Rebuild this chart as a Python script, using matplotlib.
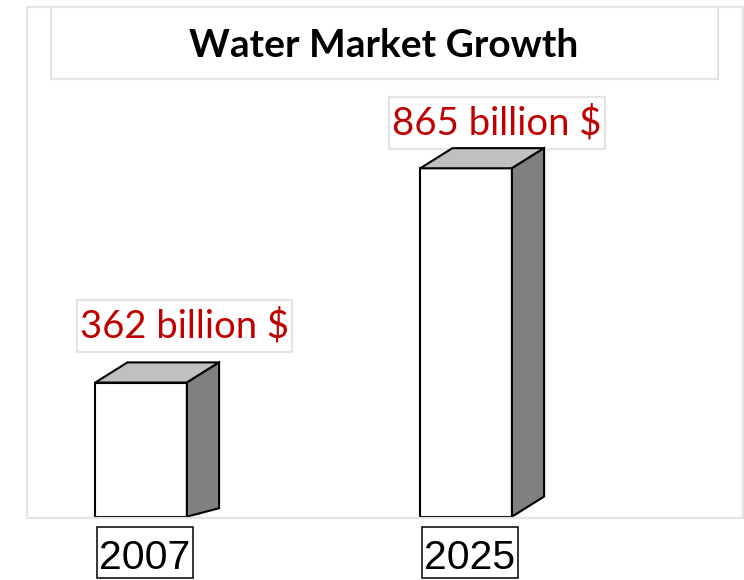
import matplotlib.pyplot as plt
from matplotlib.patches import Polygon, Rectangle

# market size per year, billion $
years = ["2007", "2025"]
market = [362, 865]
value_labels = ["362 billion $", "865 billion $"]
title = "Water Market Growth"

# 3-D bar styling (x in category units, y in billion $)
half_w = 0.141
depth_x = 0.099
depth_y = 50
base_lift = [21, 50]      # rise of the back face bottom for each bar
label_dx = [0.133, 0.095]
label_dy = 112
red = "#C00000"

fig = plt.figure(figsize=(7.44, 5.8), dpi=100)
ax = fig.add_axes([0, 0, 1, 1])
ax.set_xlim(-0.434, 1.855)
ax.set_ylim(-157.2, 1282.8)
ax.axis("off")

# outer plot frame and title box, in figure fractions
fig.patches.append(Rectangle((0.0359, 0.1074), 0.9621, 0.8806, transform=fig.transFigure,
                             fill=False, edgecolor="#E4E4E4", lw=1.6, zorder=0))
fig.patches.append(Rectangle((0.0685, 0.8638), 0.8959, 0.1241, transform=fig.transFigure,
                             facecolor="white", edgecolor="#E4E4E4", lw=1.6, zorder=1))
fig.text(0.516, 0.9012, title, ha="center", va="baseline", fontsize=28,
         fontweight="bold", family="Lato")

edge = dict(edgecolor="black", lw=1.5, joinstyle="miter")
for i, (yr, v, lab) in enumerate(zip(years, market, value_labels)):
    top = base_lift[i] + v - depth_y
    l, r = i - half_w, i + half_w
    # value label box
    cx, cy = i + label_dx[i], v + label_dy
    ax.add_patch(Rectangle((cx - 0.331, cy - 64), 0.662, 128, facecolor="white",
                           edgecolor="#E4E4E4", lw=1.6, zorder=2))
    ax.text(cx, cy - 29, lab, ha="center", va="baseline", color=red,
            fontsize=27.5, family="Lato", zorder=3)
    # front, top and side faces
    ax.add_patch(Rectangle((l, 0), r - l, top, facecolor="white", zorder=4, **edge))
    ax.add_patch(Polygon([(l, top), (r, top), (r + depth_x, top + depth_y),
                          (l + depth_x, top + depth_y)], closed=True,
                         facecolor="#C0C0C0", zorder=4, **edge))
    ax.add_patch(Polygon([(r, 0), (r + depth_x, base_lift[i]),
                          (r + depth_x, top + depth_y), (r, top)], closed=True,
                         facecolor="#808080", zorder=4, **edge))
    # year label under the bar
    ax.add_patch(Rectangle((i + 0.012 - 0.149, -153), 0.298, 128, facecolor="white",
                           edgecolor="black", lw=1.1, zorder=2))
    ax.text(i + 0.012, -130, yr, ha="center", va="baseline", fontsize=29.5,
            family="Liberation Sans", zorder=3)

fig.savefig("out.png", dpi=100)
